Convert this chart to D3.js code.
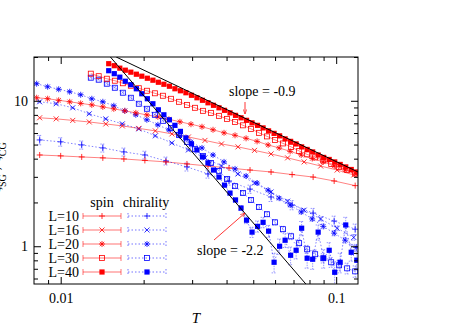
<!DOCTYPE html>
<html>
<head>
<meta charset="utf-8">
<script src="https://cdn.jsdelivr.net/npm/d3@7"></script>
<style>
  body { margin: 0; background: #fff; }
  text { font-family: "Liberation Serif", "DejaVu Serif", serif; }
</style>
</head>
<body>
<svg id="chart" width="467" height="327"></svg>
<script>
// temperatures for each system size
var T10 = [0.00839, 0.0100, 0.01192, 0.01422, 0.01696, 0.02021, 0.0241, 0.02873, 0.03425, 0.04083, 0.04867, 0.05802, 0.06918, 0.08247, 0.09833, 0.1172];
var T16 = [0.008387, 0.00963, 0.01106, 0.0127, 0.01458, 0.01674, 0.01921, 0.02206, 0.02533, 0.02908, 0.03339, 0.03834, 0.04402, 0.05054, 0.05803, 0.06663, 0.0765, 0.08784, 0.1008, 0.1158];
var T20 = [0.008179, 0.008967, 0.009834, 0.01078, 0.01182, 0.01297, 0.01422, 0.01559, 0.01709, 0.01874, 0.02055, 0.02253, 0.02471, 0.02709, 0.02971, 0.03257, 0.03572, 0.03916, 0.04294, 0.04709, 0.05163, 0.05661, 0.06208, 0.06807, 0.07464, 0.08184, 0.08974, 0.09834, 0.1078, 0.1182];
var T30 = [0.01286, 0.01374, 0.0147, 0.01572, 0.01681, 0.01797, 0.01921, 0.02055, 0.02197, 0.02349, 0.02512, 0.02686, 0.02872, 0.03071, 0.03284, 0.03511, 0.03754, 0.04014, 0.04294, 0.04592, 0.04909, 0.05248, 0.05613, 0.06, 0.06416, 0.06861, 0.07337, 0.07845, 0.08388, 0.08974, 0.0959, 0.1025, 0.1096, 0.1172];
var T40 = [0.01494, 0.01565, 0.01639, 0.01716, 0.01797, 0.01882, 0.0197, 0.02063, 0.02161, 0.02262, 0.02369, 0.02481, 0.02598, 0.0272, 0.02848, 0.02983, 0.03123, 0.0327, 0.03425, 0.03586, 0.03755, 0.03932, 0.04117, 0.04311, 0.04515, 0.04727, 0.0495, 0.05183, 0.05428, 0.05683, 0.05951, 0.06232, 0.06526, 0.06833, 0.07155, 0.07492, 0.07845, 0.08215, 0.08602, 0.09007, 0.09432, 0.09877, 0.1034, 0.1083, 0.1134, 0.1188];

// spin correlation length ratio
var spin10 = [4.24, 4.18, 4.11, 4.05, 3.98, 3.89, 3.80, 3.68, 3.56, 3.45, 3.34, 3.24, 3.11, 2.99, 2.81, 2.61];
var spin16 = [7.64, 7.51, 7.33, 7.15, 6.93, 6.72, 6.46, 6.21, 5.92, 5.64, 5.34, 5.05, 4.82, 4.56, 4.31, 4.05, 3.80, 3.56, 3.34, 3.09];
var spin20 = [10.49, 10.33, 10.08, 9.84, 9.60, 9.37, 9.08, 8.80, 8.53, 8.26, 8.00, 7.75, 7.46, 7.17, 6.90, 6.63, 6.32, 6.02, 5.79, 5.52, 5.26, 4.97, 4.74, 4.49, 4.24, 4.01, 3.80, 3.56, 3.34, 3.14];
var spin30 = [15.36, 14.76, 14.18, 13.74, 13.20, 12.69, 12.20, 11.72, 11.26, 10.83, 10.32, 9.84, 9.37, 8.95, 8.53, 8.26, 7.88, 7.51, 7.16, 6.78, 6.41, 6.02, 5.69, 5.38, 5.09, 4.82, 4.52, 4.28, 4.08, 3.89, 3.68, 3.51, 3.34, 3.16];
var spin40 = [17.99, 17.43, 16.76, 16.23, 15.73, 15.23, 14.76, 14.29, 13.85, 13.41, 12.99, 12.59, 12.10, 11.72, 11.36, 10.91, 10.49, 10.08, 9.69, 9.31, 8.95, 8.60, 8.26, 7.94, 7.64, 7.34, 7.05, 6.78, 6.51, 6.21, 5.97, 5.74, 5.47, 5.26, 5.05, 4.82, 4.63, 4.45, 4.24, 4.08, 3.95, 3.80, 3.65, 3.51, 3.37, 3.24];

// chirality
var chir10 = [5.38, 5.22, 4.97, 4.74, 4.45, 4.24, 3.86, 3.51, 3.14, 2.81, 2.47, 2.18, 1.92, 1.69, 1.49, 1.31];
var chir16 = [9.84, 9.54, 8.95, 8.14, 7.51, 6.94, 6.41, 5.74, 5.13, 4.59, 4.05, 3.56, 3.14, 2.72, 2.36, 2.04, 1.77, 1.54, 1.33, 1.15];
var chir20 = [13.10, 12.49, 12.00, 11.54, 11.00, 10.32, 9.84, 9.24, 8.53, 8.01, 7.40, 6.83, 6.31, 5.74, 5.21, 4.74, 4.24, 3.80, 3.40, 3.04, 2.72, 2.43, 2.14, 1.92, 1.72, 1.54, 1.37, 1.23, 1.10, 0.98];
var chir30 = [14.41, 13.96, 13.10, 12.29, 11.36, 10.49, 9.54, 8.81, 8.01, 7.28, 6.51, 5.83, 5.21, 4.67, 4.18, 3.74, 3.29, 2.90, 2.59, 2.32, 2.08, 1.86, 1.66, 1.46, 1.31, 1.17, 1.05, 0.953, 0.881, 0.827, 0.776, 0.740, 0.705, 0.672];
var chir40 = [16.10, 15.36, 14.53, 13.63, 12.90, 12.10, 11.18, 10.33, 9.54, 8.67, 8.01, 7.40, 6.78, 6.16, 5.56, 5.05, 4.59, 4.11, 3.74, 3.34, 2.99, 2.63, 2.32, 2.08, 1.83, 1.51, 1.25, 1.37, 1.46, 1.27, 0.776, 1.00, 1.10, 0.867, 0.938, 1.33, 0.827, 0.814, 1.25, 0.827, 0.938, 0.662, 0.776, 1.40, 0.909, 0.801];

// chirality error bars (absolute)
var chirErr10 = [0.40, 0.35, 0.32, 0.30, 0.28, 0.26, 0.24, 0.22, 0.20, 0.18, 0.16, 0.15, 0.14, 0.13, 0.12, 0.11];
var chirErr16 = [0.15, 0.14, 0.12, 0.11, 0.10, 0.09, 0.08, 0.08, 0.07, 0.07, 0.06, 0.06, 0.06, 0.06, 0.05, 0.05, 0.05, 0.05, 0.05, 0.05];
var chirErr20 = [0.2, 0.18, 0.17, 0.15, 0.14, 0.13, 0.12, 0.11, 0.1, 0.09, 0.08, 0.08, 0.07, 0.07, 0.06, 0.06, 0.06, 0.05, 0.05, 0.05, 0.05, 0.05, 0.05, 0.05, 0.05, 0.05, 0.05, 0.05, 0.05, 0.05];
var chirErr30 = [0.3, 0.28, 0.25, 0.22, 0.2, 0.18, 0.16, 0.15, 0.13, 0.12, 0.11, 0.1, 0.09, 0.08, 0.08, 0.07, 0.07, 0.06, 0.06, 0.06, 0.06, 0.06, 0.06, 0.06, 0.06, 0.06, 0.06, 0.06, 0.06, 0.06, 0.06, 0.06, 0.06, 0.06];
var chirErr40 = [0.3, 0.28, 0.26, 0.24, 0.22, 0.2, 0.18, 0.16, 0.15, 0.14, 0.12, 0.11, 0.1, 0.09, 0.08, 0.08, 0.07, 0.07, 0.06, 0.06, 0.06, 0.06, 0.06, 0.06, 0.07, 0.08, 0.1, 0.12, 0.12, 0.12, 0.12, 0.12, 0.12, 0.12, 0.12, 0.15, 0.12, 0.12, 0.15, 0.12, 0.12, 0.12, 0.12, 0.18, 0.12, 0.12];

// power-law guide lines (end points)
var fitT09 = [0.0159, 0.12], fitY09 = [20, 3.24];
var fitT22 = [0.01515, 0.0776], fitY22 = [20, 0.55];

var sizeLabels = ["L=10", "L=16", "L=20", "L=30", "L=40"];
var xMajor = [0.01, 0.1];
var xMinor = [0.009, 0.02, 0.03, 0.04, 0.05, 0.06, 0.07, 0.08, 0.09];
var yMajor = [1, 10];
var yMinor = [0.6, 0.7, 0.8, 0.9, 2, 3, 4, 5, 6, 7, 8, 9, 20];

var series = [
  { T: T10, spin: spin10, chir: chir10, err: chirErr10, mark: "plus" },
  { T: T16, spin: spin16, chir: chir16, err: chirErr16, mark: "cross" },
  { T: T20, spin: spin20, chir: chir20, err: chirErr20, mark: "star" },
  { T: T30, spin: spin30, chir: chir30, err: chirErr30, mark: "box" },
  { T: T40, spin: spin40, chir: chir40, err: chirErr40, mark: "fbox" }
];

var pLeft = 34, pRight = 358, pTop = 57, pBottom = 284;
var red = "#ff0000", blue = "#0000ff";

var svg = d3.select("#chart");

var x = d3.scaleLog().domain([0.008, 0.12]).range([pLeft, pRight]);
var y = d3.scaleLog().domain([0.55, 20]).range([pBottom, pTop]);

svg.append("clipPath").attr("id", "clip")
  .append("rect").attr("x", pLeft).attr("y", pTop)
  .attr("width", pRight - pLeft).attr("height", pBottom - pTop);

// markers
function drawMark(g, type, color) {
  var sw = 0.8;
  if (type == "plus") {
    g.append("path").attr("d", "M-3,0H3M0,-3V3").attr("stroke", color).attr("stroke-width", sw).attr("fill", "none");
  } else if (type == "cross") {
    g.append("path").attr("d", "M-2.5,-2.5L2.5,2.5M-2.5,2.5L2.5,-2.5").attr("stroke", color).attr("stroke-width", sw).attr("fill", "none");
  } else if (type == "star") {
    g.append("path").attr("d", "M-3,0H3M0,-3V3M-2.2,-2.2L2.2,2.2M-2.2,2.2L2.2,-2.2").attr("stroke", color).attr("stroke-width", sw).attr("fill", "none");
  } else if (type == "box") {
    g.append("rect").attr("x", -2.5).attr("y", -2.5).attr("width", 5).attr("height", 5)
      .attr("stroke", color).attr("stroke-width", sw).attr("fill", "none");
  } else {
    g.append("rect").attr("x", -2.6).attr("y", -2.6).attr("width", 5.2).attr("height", 5.2).attr("fill", color);
  }
}

var plot = svg.append("g").attr("clip-path", "url(#clip)");

var line = d3.line().x(function(d){ return x(d[0]); }).y(function(d){ return y(d[1]); });

series.forEach(function(s) {
  var spinPts = d3.zip(s.T, s.spin);
  var chirPts = d3.zip(s.T, s.chir, s.err);

  plot.append("path").datum(spinPts).attr("d", line)
    .attr("fill", "none").attr("stroke", red).attr("stroke-opacity", 0.55).attr("stroke-width", 0.9);
  plot.append("path").datum(chirPts).attr("d", line)
    .attr("fill", "none").attr("stroke", blue).attr("stroke-opacity", 0.55)
    .attr("stroke-width", 0.9).attr("stroke-dasharray", "1.5,2");

  // chirality error bars
  plot.selectAll(null).data(chirPts).enter().append("path")
    .attr("d", function(d) {
      var cx = x(d[0]), y1 = y(d[1] + d[2]), y2 = y(Math.max(d[1] - d[2], 0.3));
      return "M" + cx + "," + y1 + "V" + y2 + "M" + (cx - 2.5) + "," + y1 + "H" + (cx + 2.5) +
        "M" + (cx - 2.5) + "," + y2 + "H" + (cx + 2.5);
    })
    .attr("fill", "none").attr("stroke", blue).attr("stroke-opacity", 0.5)
    .attr("stroke-width", 0.8).attr("stroke-dasharray", "1.5,1");

  plot.selectAll(null).data(chirPts).enter().append("g")
    .attr("transform", function(d){ return "translate(" + x(d[0]) + "," + y(d[1]) + ")"; })
    .each(function(){ drawMark(d3.select(this), s.mark, blue); });
  plot.selectAll(null).data(spinPts).enter().append("g")
    .attr("transform", function(d){ return "translate(" + x(d[0]) + "," + y(d[1]) + ")"; })
    .each(function(){ drawMark(d3.select(this), s.mark, red); });
});

// guide lines
plot.append("path").datum(d3.zip(fitT09, fitY09)).attr("d", line)
  .attr("fill", "none").attr("stroke", "#000").attr("stroke-width", 1);
plot.append("path").datum(d3.zip(fitT22, fitY22)).attr("d", line)
  .attr("fill", "none").attr("stroke", "#000").attr("stroke-width", 1);

// axes
function styleAxis(g) {
  g.select(".domain").remove();
  g.selectAll("line").attr("stroke", "#000");
  g.selectAll("text").attr("font-size", 14).attr("fill", "#000")
    .style("font-family", "'Liberation Serif', serif");
}

svg.append("g").attr("transform", "translate(0," + pBottom + ")")
  .call(d3.axisBottom(x).tickValues(xMajor).tickFormat(d3.format("")).tickSize(-7).tickPadding(9))
  .call(styleAxis);
svg.append("g").attr("transform", "translate(0," + pBottom + ")")
  .call(d3.axisBottom(x).tickValues(xMinor).tickFormat("").tickSize(-4)).call(styleAxis);
svg.append("g").attr("transform", "translate(0," + pTop + ")")
  .call(d3.axisTop(x).tickValues(xMajor).tickFormat("").tickSize(-7)).call(styleAxis);
svg.append("g").attr("transform", "translate(0," + pTop + ")")
  .call(d3.axisTop(x).tickValues(xMinor).tickFormat("").tickSize(-4)).call(styleAxis);

svg.append("g").attr("transform", "translate(" + pLeft + ",0)")
  .call(d3.axisLeft(y).tickValues(yMajor).tickFormat(d3.format("")).tickSize(-7).tickPadding(6))
  .call(styleAxis);
svg.append("g").attr("transform", "translate(" + pLeft + ",0)")
  .call(d3.axisLeft(y).tickValues(yMinor).tickFormat("").tickSize(-4)).call(styleAxis);
svg.append("g").attr("transform", "translate(" + pRight + ",0)")
  .call(d3.axisRight(y).tickValues(yMajor).tickFormat("").tickSize(-7)).call(styleAxis);
svg.append("g").attr("transform", "translate(" + pRight + ",0)")
  .call(d3.axisRight(y).tickValues(yMinor).tickFormat("").tickSize(-4)).call(styleAxis);

svg.append("rect").attr("x", pLeft).attr("y", pTop)
  .attr("width", pRight - pLeft).attr("height", pBottom - pTop)
  .attr("fill", "none").attr("stroke", "#000").attr("stroke-width", 1);

// axis titles
svg.append("text").attr("x", (pLeft + pRight) / 2).attr("y", 323)
  .attr("text-anchor", "middle").attr("font-size", 15).attr("font-style", "italic").text("T");

// y title sits mostly outside the picture, as in the source figure
svg.append("text").attr("transform", "translate(0,168) rotate(-90)")
  .attr("text-anchor", "middle").attr("font-size", 15)
  .html("ξ<tspan baseline-shift='sub' font-size='10'>SG</tspan> , ξ<tspan baseline-shift='sub' font-size='10'>CG</tspan>");

// annotations
svg.append("defs").append("marker").attr("id", "arrow")
  .attr("viewBox", "0 0 10 10").attr("refX", 10).attr("refY", 5)
  .attr("markerWidth", 6).attr("markerHeight", 6).attr("orient", "auto")
  .append("path").attr("d", "M0,1L10,5L0,9").attr("fill", "none").attr("stroke", red).attr("stroke-width", 1.2);

svg.append("text").attr("x", 229).attr("y", 96).attr("font-size", 14).text("slope = -0.9");
svg.append("line").attr("x1", 245).attr("y1", 102).attr("x2", 245).attr("y2", 114)
  .attr("stroke", red).attr("stroke-width", 0.8).attr("marker-end", "url(#arrow)");

svg.append("text").attr("x", 197).attr("y", 255).attr("font-size", 14).text("slope = -2.2");
svg.append("line").attr("x1", 214).attr("y1", 240).attr("x2", 245).attr("y2", 213)
  .attr("stroke", red).attr("stroke-width", 0.8).attr("marker-end", "url(#arrow)");

// legend
var legend = svg.append("g");
legend.append("text").attr("x", 102).attr("y", 207).attr("text-anchor", "middle").attr("font-size", 14).text("spin");
legend.append("text").attr("x", 146).attr("y", 207).attr("text-anchor", "middle").attr("font-size", 14).text("chirality");

sizeLabels.forEach(function(lab, i) {
  var ly = 216 + i * 14;
  legend.append("text").attr("x", 79).attr("y", ly + 5).attr("text-anchor", "end").attr("font-size", 14).text(lab);
  legend.append("path").attr("d", "M83," + (ly - 3) + "V" + (ly + 3) + "M83," + ly + "H121M121," + (ly - 3) + "V" + (ly + 3))
    .attr("stroke", red).attr("stroke-opacity", 0.55).attr("fill", "none");
  legend.append("path").attr("d", "M128," + (ly - 3) + "V" + (ly + 3) + "M128," + ly + "H166M166," + (ly - 3) + "V" + (ly + 3))
    .attr("stroke", blue).attr("stroke-opacity", 0.55).attr("stroke-dasharray", "1.5,2").attr("fill", "none");
  drawMark(legend.append("g").attr("transform", "translate(102," + ly + ")"), series[i].mark, red);
  drawMark(legend.append("g").attr("transform", "translate(147," + ly + ")"), series[i].mark, blue);
});
</script>
</body>
</html>
